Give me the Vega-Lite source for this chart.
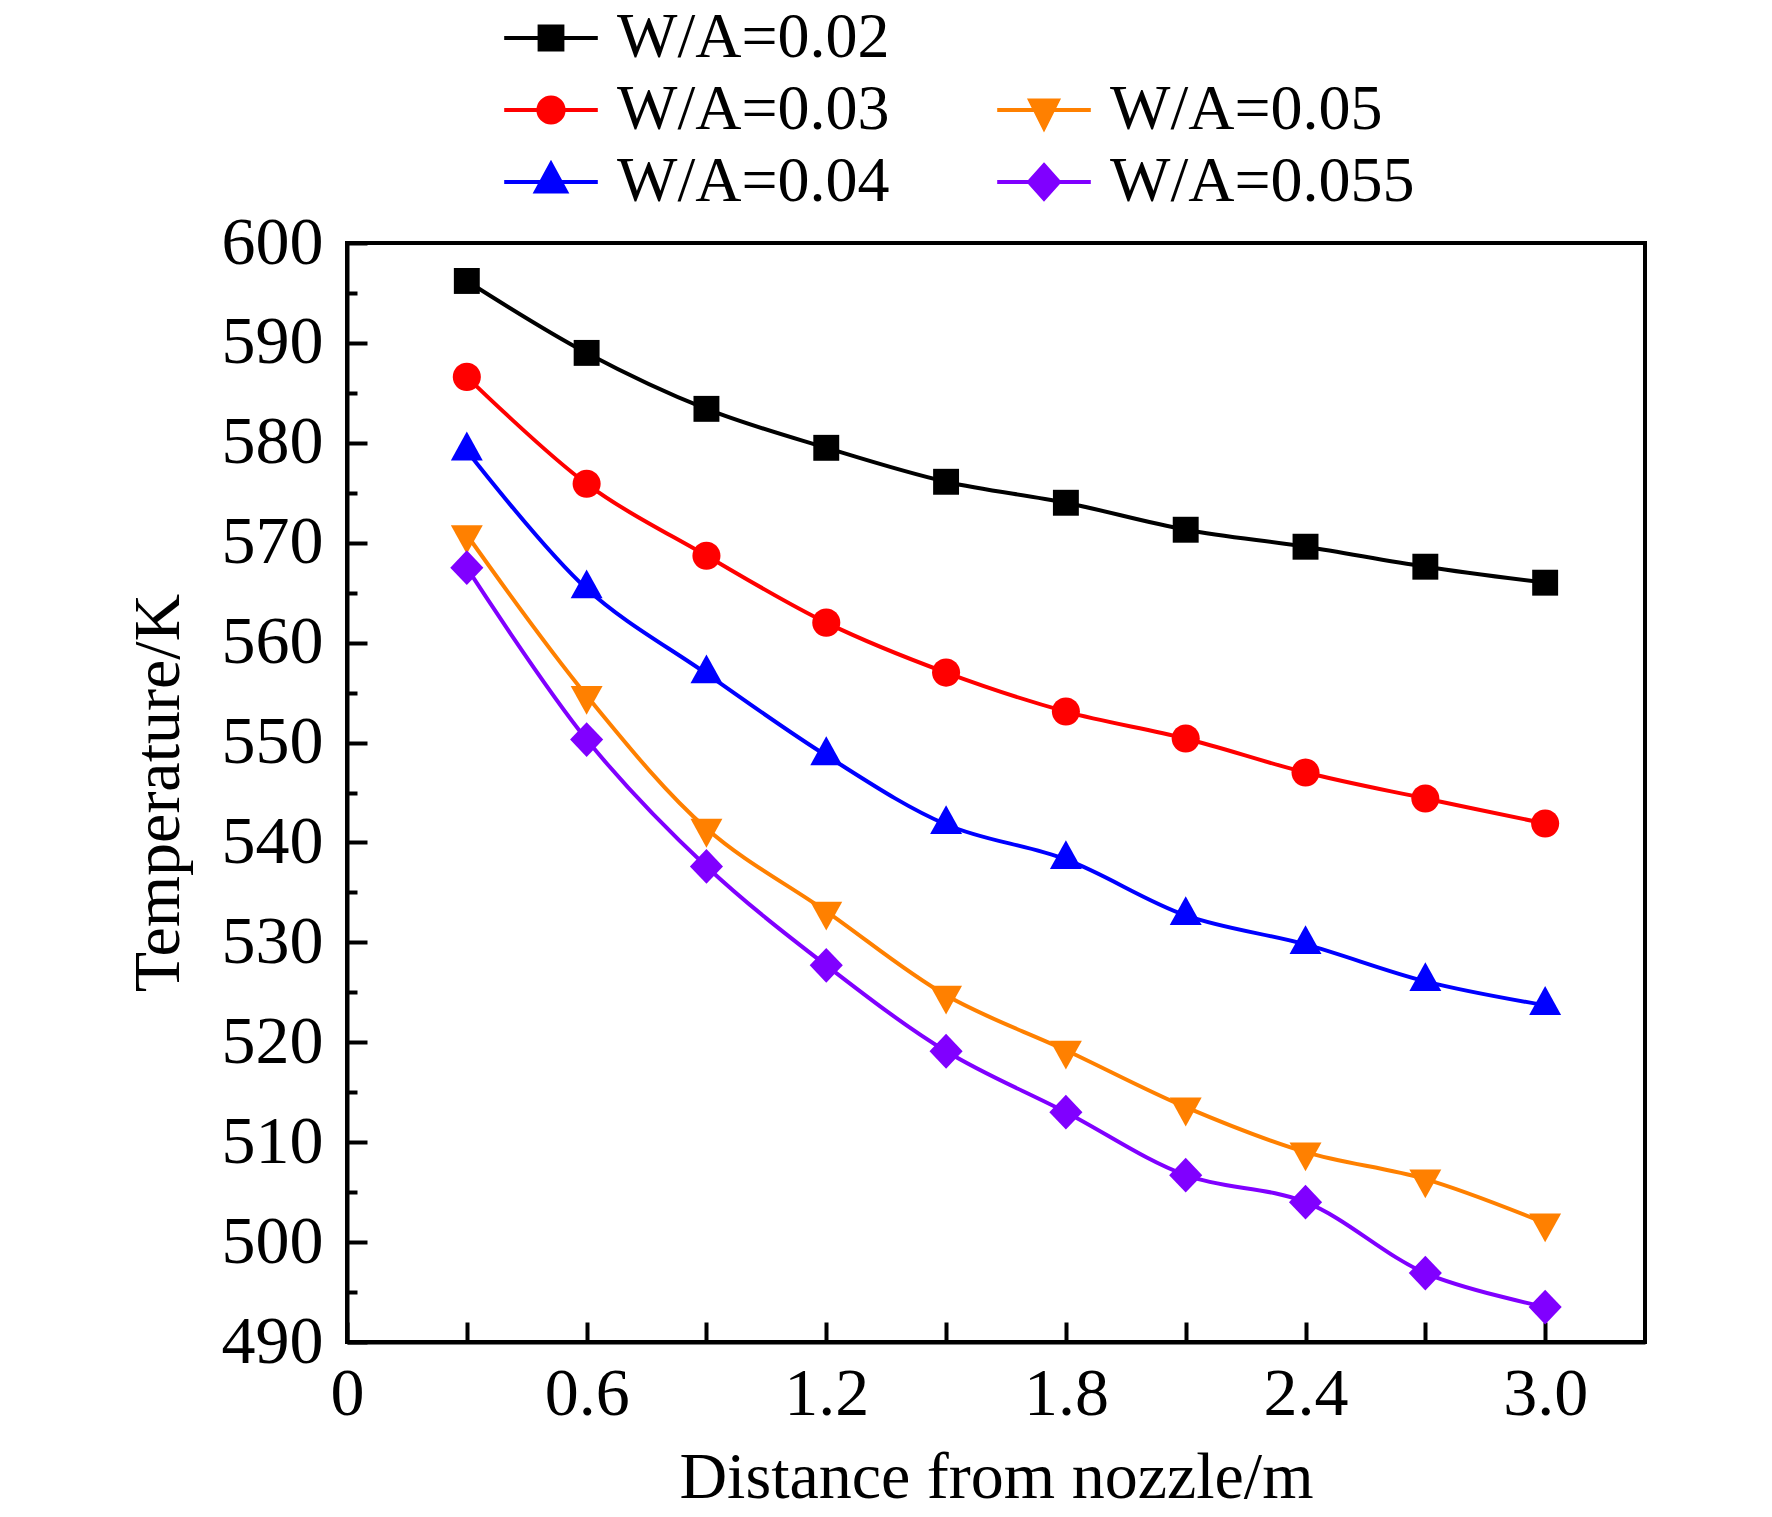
{
  "$schema": "https://vega.github.io/schema/vega-lite/v6.json",
  "autosize": "none",
  "width": 1298,
  "height": 1099,
  "padding": {"left": 347, "top": 243, "right": 127, "bottom": 175},
  "background": "white",
  "config": {
    "view": {"stroke": "black", "strokeWidth": 4},
    "font": "Liberation Serif",
    "axis": {
      "domainColor": "black",
      "domainWidth": 4,
      "tickColor": "black",
      "tickWidth": 4,
      "grid": false,
      "labelFont": "Liberation Serif",
      "labelFontSize": 68,
      "labelColor": "black",
      "titleFont": "Liberation Serif",
      "titleFontSize": 66,
      "titleFontWeight": "normal",
      "titleColor": "black"
    },
    "legend": {
      "orient": "none",
      "legendX": 172,
      "legendY": -237,
      "title": null,
      "columns": 2,
      "columnPadding": 99,
      "rowPadding": 8,
      "padding": 0,
      "symbolOffset": 0,
      "labelOffset": 34,
      "symbolSize": 576,
      "symbolStrokeWidth": 4,
      "labelFont": "Liberation Serif",
      "labelFontSize": 64,
      "labelColor": "black",
      "labelLimit": 600
    }
  },
  "data": {
    "values": [
      {"d": 0.3, "T": 596.2, "s": "0.02"}, {"d": 0.6, "T": 589.0, "s": "0.02"}, {"d": 0.9, "T": 583.4, "s": "0.02"}, {"d": 1.2, "T": 579.5, "s": "0.02"}, {"d": 1.5, "T": 576.1, "s": "0.02"},
      {"d": 1.8, "T": 574.0, "s": "0.02"}, {"d": 2.1, "T": 571.3, "s": "0.02"}, {"d": 2.4, "T": 569.6, "s": "0.02"}, {"d": 2.7, "T": 567.6, "s": "0.02"}, {"d": 3.0, "T": 566.0, "s": "0.02"},
      {"d": 0.3, "T": 586.6, "s": "0.03"}, {"d": 0.6, "T": 575.9, "s": "0.03"}, {"d": 0.9, "T": 568.7, "s": "0.03"}, {"d": 1.2, "T": 562.0, "s": "0.03"}, {"d": 1.5, "T": 557.0, "s": "0.03"},
      {"d": 1.8, "T": 553.1, "s": "0.03"}, {"d": 2.1, "T": 550.4, "s": "0.03"}, {"d": 2.4, "T": 547.0, "s": "0.03"}, {"d": 2.7, "T": 544.4, "s": "0.03"}, {"d": 3.0, "T": 541.9, "s": "0.03"},
      {"d": 0.3, "T": 579.2, "s": "0.04"}, {"d": 0.6, "T": 565.4, "s": "0.04"}, {"d": 0.9, "T": 556.9, "s": "0.04"}, {"d": 1.2, "T": 548.7, "s": "0.04"}, {"d": 1.5, "T": 541.8, "s": "0.04"},
      {"d": 1.8, "T": 538.3, "s": "0.04"}, {"d": 2.1, "T": 532.7, "s": "0.04"}, {"d": 2.4, "T": 529.8, "s": "0.04"}, {"d": 2.7, "T": 526.1, "s": "0.04"}, {"d": 3.0, "T": 523.7, "s": "0.04"},
      {"d": 0.3, "T": 570.8, "s": "0.05"}, {"d": 0.6, "T": 554.7, "s": "0.05"}, {"d": 0.9, "T": 541.4, "s": "0.05"}, {"d": 1.2, "T": 533.1, "s": "0.05"}, {"d": 1.5, "T": 524.7, "s": "0.05"},
      {"d": 1.8, "T": 519.2, "s": "0.05"}, {"d": 2.1, "T": 513.5, "s": "0.05"}, {"d": 2.4, "T": 509.0, "s": "0.05"}, {"d": 2.7, "T": 506.3, "s": "0.05"}, {"d": 3.0, "T": 501.9, "s": "0.05"},
      {"d": 0.3, "T": 567.5, "s": "0.055"}, {"d": 0.6, "T": 550.3, "s": "0.055"}, {"d": 0.9, "T": 537.6, "s": "0.055"}, {"d": 1.2, "T": 527.7, "s": "0.055"}, {"d": 1.5, "T": 519.1, "s": "0.055"},
      {"d": 1.8, "T": 513.0, "s": "0.055"}, {"d": 2.1, "T": 506.7, "s": "0.055"}, {"d": 2.4, "T": 504.0, "s": "0.055"}, {"d": 2.7, "T": 496.9, "s": "0.055"}, {"d": 3.0, "T": 493.5, "s": "0.055"}
    ]
  },
  "encoding": {
    "x": {
      "field": "d",
      "type": "quantitative",
      "scale": {"domain": [0, 3.25], "nice": false, "zero": false},
      "axis": {
        "title": "Distance from nozzle/m",
        "values": [0, 0.3, 0.6, 0.9, 1.2, 1.5, 1.8, 2.1, 2.4, 2.7, 3.0],
        "labelExpr": "round(datum.value * 10) % 6 == 0 ? (datum.value == 0 ? '0' : format(datum.value, '.1f')) : ''",
        "tickSize": -20,
        "labelPadding": 38,
        "labelFlush": false,
        "labelOverlap": false,
        "titleX": 649,
        "titleY": 155,
        "titleAlign": "center",
        "titleBaseline": "alphabetic",
        "titleAnchor": null
      }
    },
    "y": {
      "field": "T",
      "type": "quantitative",
      "scale": {"domain": [490, 600], "nice": false, "zero": false},
      "axis": {
        "title": "Temperature/K",
        "values": [490, 495, 500, 505, 510, 515, 520, 525, 530, 535, 540, 545, 550, 555, 560, 565, 570, 575, 580, 585, 590, 595, 600],
        "labelExpr": "datum.value % 10 == 0 ? format(datum.value, 'd') : ''",
        "tickSize": {"expr": "datum.value % 10 == 0 ? -20 : -10"},
        "labelPadding": 44,
        "labelFlush": false,
        "labelOverlap": false,
        "titleX": -189,
        "titleY": 549.5,
        "titleAngle": 270,
        "titleAlign": "center",
        "titleBaseline": "middle",
        "titleAnchor": null
      }
    },
    "color": {
      "field": "s",
      "type": "nominal",
      "scale": {
        "domain": ["0.02", "0.03", "0.04", "blank", "0.05", "0.055"],
        "range": ["#000000", "#ff0000", "#0000ff", "#ffffff", "#ff8000", "#8000ff"]
      },
      "legend": {
        "title": null,
        "labelExpr": "datum.value == 'blank' ? '' : 'W/A=' + datum.value"
      }
    }
  },
  "layer": [
    {
      "mark": {"type": "line", "interpolate": "catmull-rom", "strokeWidth": 4}
    },
    {
      "transform": [{"filter": "datum.s == '0.02'"}],
      "mark": {"type": "point", "filled": true, "opacity": 1, "size": 576, "strokeWidth": 0, "shape": "M-1.08,-1.08H1.08V1.08H-1.08Z"}
    },
    {
      "transform": [{"filter": "datum.s == '0.03'"}],
      "mark": {"type": "point", "filled": true, "opacity": 1, "size": 576, "strokeWidth": 0, "shape": "M-1.17,0A1.17,1.17,0,1,1,1.17,0A1.17,1.17,0,1,1,-1.17,0Z"}
    },
    {
      "transform": [{"filter": "datum.s == '0.04'"}],
      "mark": {"type": "point", "filled": true, "opacity": 1, "size": 576, "strokeWidth": 0, "shape": "M0,-1.6L1.33,0.8L-1.33,0.8Z"}
    },
    {
      "transform": [{"filter": "datum.s == '0.05'"}],
      "mark": {"type": "point", "filled": true, "opacity": 1, "size": 576, "strokeWidth": 0, "shape": "M0,1.6L1.33,-0.8L-1.33,-0.8Z"}
    },
    {
      "transform": [{"filter": "datum.s == '0.055'"}],
      "mark": {"type": "point", "filled": true, "opacity": 1, "size": 576, "strokeWidth": 0, "shape": "M0,-1.45L1.38,0L0,1.45L-1.38,0Z"}
    },
    {
      "transform": [{"filter": "false"}],
      "mark": {"type": "point", "filled": true, "opacity": 1, "size": 576, "strokeWidth": 4},
      "encoding": {
        "shape": {
          "field": "s",
          "type": "nominal",
          "scale": {
            "domain": ["0.02", "0.03", "0.04", "blank", "0.05", "0.055"],
            "range": [
              "M-0.95,-0.95H0.95V0.95H-0.95Z M-3.9,0H3.9",
              "M-1.05,0A1.05,1.05,0,1,1,1.05,0A1.05,1.05,0,1,1,-1.05,0Z M-3.9,0H3.9",
              "M0,-1.5L1.25,0.8L-1.25,0.8Z M-3.9,0H3.9",
              "M-1,-1H1V1H-1Z",
              "M0,1.5L1.15,-0.8L-1.15,-0.8Z M-3.9,0H3.9",
              "M0,-1.4L1.25,0L0,1.4L-1.25,0Z M-3.9,0H3.9"
            ]
          },
          "legend": {
            "title": null,
            "labelExpr": "datum.value == 'blank' ? '' : 'W/A=' + datum.value"
          }
        },
        "stroke": {
          "field": "s",
          "type": "nominal",
          "scale": {
            "domain": ["0.02", "0.03", "0.04", "blank", "0.05", "0.055"],
            "range": ["#000000", "#ff0000", "#0000ff", "#ffffff", "#ff8000", "#8000ff"]
          },
          "legend": {
            "title": null,
            "labelExpr": "datum.value == 'blank' ? '' : 'W/A=' + datum.value"
          }
        }
      }
    }
  ]
}
